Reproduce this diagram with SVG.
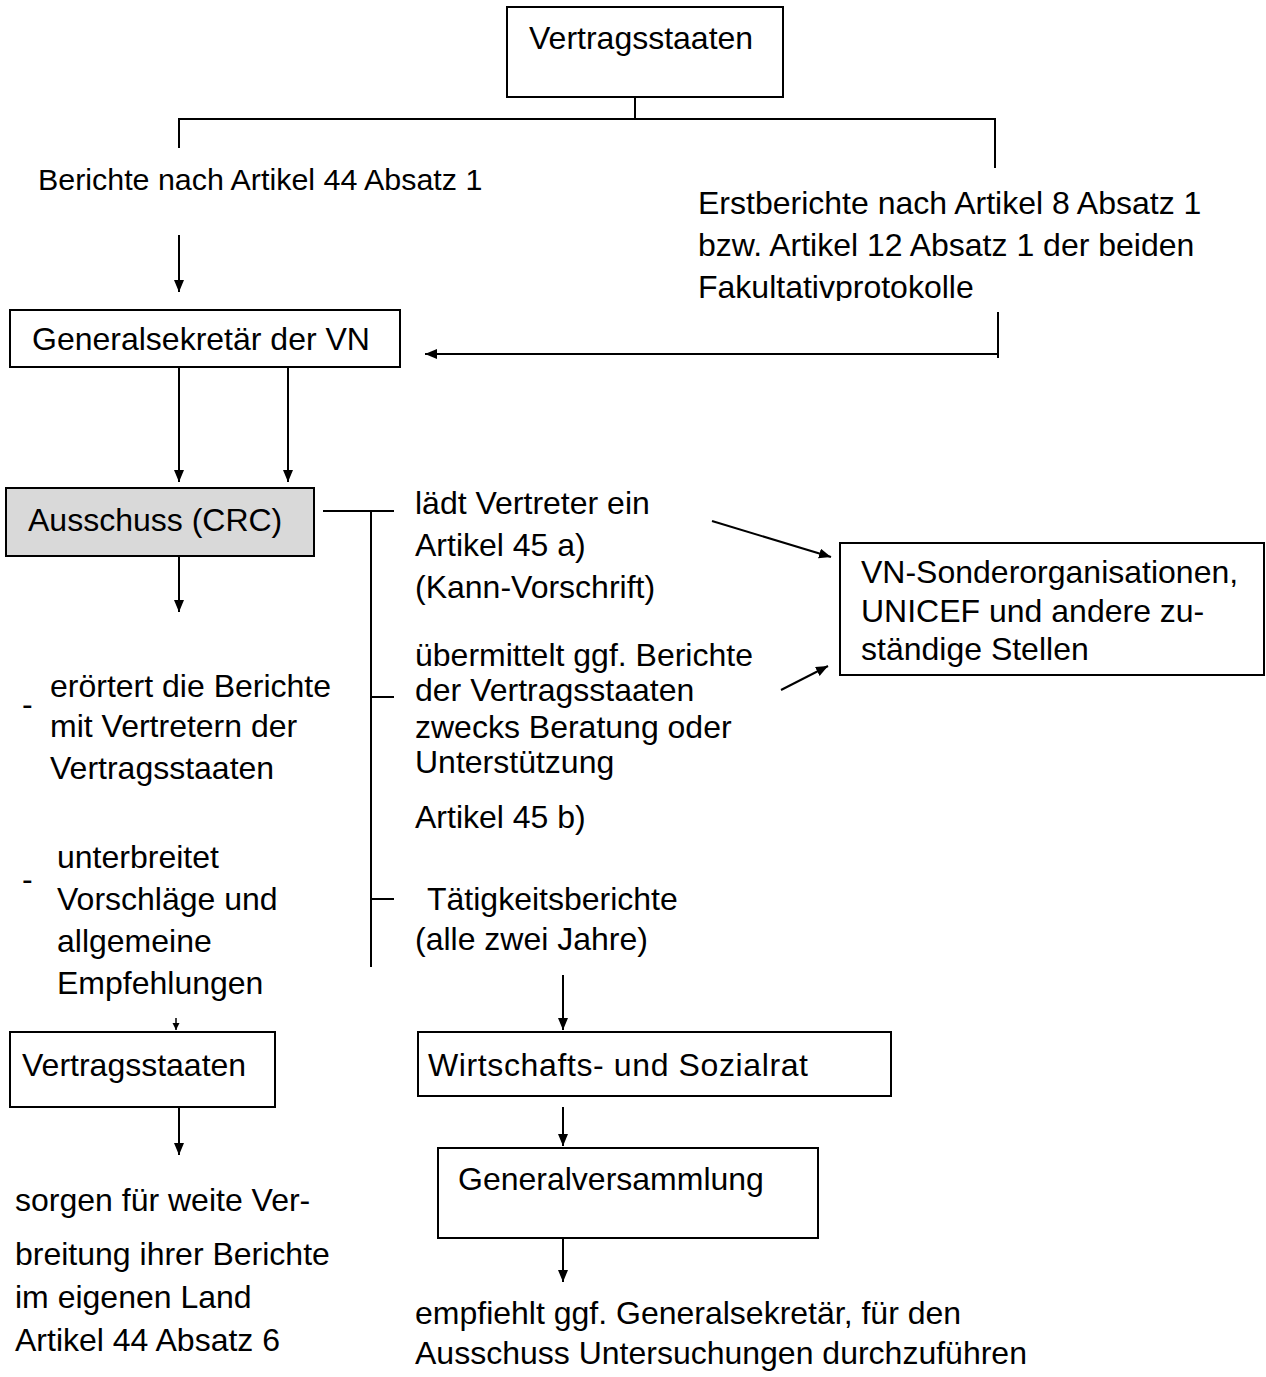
<svg xmlns="http://www.w3.org/2000/svg" width="1266" height="1377" viewBox="0 0 1266 1377">
  <style>
    .box { fill: #ffffff; stroke: #000000; stroke-width: 2; }
    .box.shaded { fill: #d9d9d9; }
    .t { font-family: "Liberation Sans", Arial, sans-serif; font-size: 32px; fill: #000000; }
    .ln { fill: none; stroke: #000000; stroke-width: 2; }
    .arr { fill: none; stroke: #000000; stroke-width: 2; marker-end: url(#head); }
    .arr-s { fill: none; stroke: #000000; stroke-width: 1.5; marker-end: url(#head-s); }
  </style>
  <defs>
    <marker id="head" markerUnits="userSpaceOnUse" markerWidth="13" markerHeight="11" refX="12" refY="5" orient="auto">
      <path d="M0,0 L12,5 L0,10 Z" fill="#000000"/>
    </marker>
    <marker id="head-s" markerUnits="userSpaceOnUse" markerWidth="8" markerHeight="8" refX="7" refY="3.5" orient="auto">
      <path d="M0,0 L7,3.5 L0,7 Z" fill="#000000"/>
    </marker>
    <clipPath id="clip-fak">
      <rect x="690" y="260" width="400" height="41"/>
    </clipPath>
  </defs>

  <rect width="1266" height="1377" fill="#ffffff"/>

  <!-- connectors -->
  <g id="connectors">
    <path class="ln" d="M635,97 V119"/>
    <path class="ln" d="M179,148 V119 H995 V168"/>
    <path class="arr" d="M179,235 V292"/>
    <path class="ln" d="M998,312 V358"/>
    <path class="arr" d="M998,354 H425"/>
    <path class="arr" d="M179,368 V482"/>
    <path class="arr" d="M288,368 V482"/>
    <path class="ln" d="M323,511 H394 M371,511 V967 M371,697 H394 M371,899 H394"/>
    <path class="arr" d="M179,556 V612"/>
    <path class="arr" d="M712,521 L831,557"/>
    <path class="arr" d="M781,690 L828,666"/>
    <path class="arr-s" d="M176,1018 V1030"/>
    <path class="arr" d="M179,1107 V1155"/>
    <path class="arr" d="M563,975 V1030"/>
    <path class="arr" d="M563,1107 V1146"/>
    <path class="arr" d="M563,1238 V1282"/>
  </g>

  <!-- nodes -->
  <g id="node-vertragsstaaten-top">
    <rect class="box" x="507" y="7" width="276" height="90"/>
    <text class="t" x="529" y="49">Vertragsstaaten</text>
  </g>

  <g id="label-berichte-44">
    <text class="t" x="38" y="190" style="font-size:30.4px">Berichte nach Artikel 44 Absatz 1</text>
  </g>

  <g id="label-erstberichte">
    <text class="t" x="698" y="214">Erstberichte nach Artikel 8 Absatz 1</text>
    <text class="t" x="698" y="256">bzw. Artikel 12 Absatz 1 der beiden</text>
    <text class="t" x="698" y="298" clip-path="url(#clip-fak)">Fakultativprotokolle</text>
  </g>

  <g id="node-generalsekretaer">
    <rect class="box" x="10" y="310" width="390" height="57"/>
    <text class="t" x="32" y="350">Generalsekretär der VN</text>
  </g>

  <g id="node-ausschuss">
    <rect class="box shaded" x="6" y="488" width="308" height="68"/>
    <text class="t" x="28" y="531">Ausschuss (CRC)</text>
  </g>

  <g id="label-laedt">
    <text class="t" x="415" y="514">lädt Vertreter ein</text>
    <text class="t" x="415" y="556">Artikel 45 a)</text>
    <text class="t" x="415" y="598">(Kann-Vorschrift)</text>
  </g>

  <g id="label-uebermittelt">
    <text class="t" x="415" y="666">übermittelt ggf. Berichte</text>
    <text class="t" x="415" y="701">der Vertragsstaaten</text>
    <text class="t" x="415" y="738">zwecks Beratung oder</text>
    <text class="t" x="415" y="773">Unterstützung</text>
    <text class="t" x="415" y="828">Artikel 45 b)</text>
  </g>

  <g id="label-taetigkeit">
    <text class="t" x="427" y="910">Tätigkeitsberichte</text>
    <text class="t" x="415" y="950">(alle zwei Jahre)</text>
  </g>

  <g id="node-vn-sonder">
    <rect class="box" x="840" y="543" width="424" height="132"/>
    <text class="t" x="861" y="583">VN-Sonderorganisationen,</text>
    <text class="t" x="861" y="622">UNICEF und andere zu-</text>
    <text class="t" x="861" y="660">ständige Stellen</text>
  </g>

  <g id="label-eroertert">
    <text class="t" x="22" y="715">-</text>
    <text class="t" x="50" y="697">erörtert die Berichte</text>
    <text class="t" x="50" y="737">mit Vertretern der</text>
    <text class="t" x="50" y="779">Vertragsstaaten</text>
  </g>

  <g id="label-unterbreitet">
    <text class="t" x="22" y="890">-</text>
    <text class="t" x="57" y="868">unterbreitet</text>
    <text class="t" x="57" y="910">Vorschläge und</text>
    <text class="t" x="57" y="952">allgemeine</text>
    <text class="t" x="57" y="994">Empfehlungen</text>
  </g>

  <g id="node-vertragsstaaten-bottom">
    <rect class="box" x="10" y="1032" width="265" height="75"/>
    <text class="t" x="22" y="1076">Vertragsstaaten</text>
  </g>

  <g id="label-sorgen">
    <text class="t" x="15" y="1211">sorgen für weite Ver-</text>
    <text class="t" x="15" y="1265">breitung ihrer Berichte</text>
    <text class="t" x="15" y="1308">im eigenen Land</text>
    <text class="t" x="15" y="1351">Artikel 44 Absatz 6</text>
  </g>

  <g id="node-wirtschaftsrat">
    <rect class="box" x="418" y="1032" width="473" height="64"/>
    <text class="t" x="428" y="1076" textLength="380" lengthAdjust="spacing">Wirtschafts- und Sozialrat</text>
  </g>

  <g id="node-generalversammlung">
    <rect class="box" x="438" y="1148" width="380" height="90"/>
    <text class="t" x="458" y="1190">Generalversammlung</text>
  </g>

  <g id="label-empfiehlt">
    <text class="t" x="415" y="1324">empfiehlt ggf. Generalsekretär, für den</text>
    <text class="t" x="415" y="1364">Ausschuss Untersuchungen durchzuführen</text>
  </g>
</svg>
